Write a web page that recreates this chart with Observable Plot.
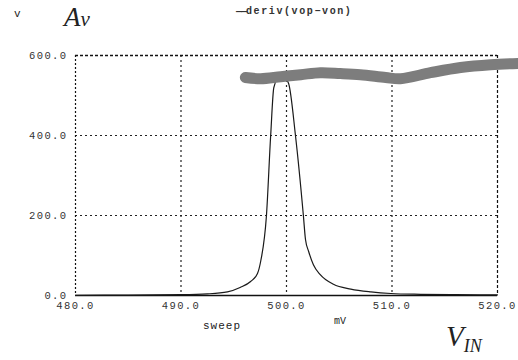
<!DOCTYPE html>
<html>
<head>
<meta charset="utf-8">
<script src="https://cdn.jsdelivr.net/npm/d3@7"></script>
<script src="https://cdn.jsdelivr.net/npm/@observablehq/plot@0.6"></script>
<style>
  html, body { margin: 0; padding: 0; background: #fff; }
  #wrap { position: relative; width: 518px; height: 360px; overflow: hidden; }
  .t { position: absolute; white-space: nowrap; color: #222; }
  .mono { font-family: "Liberation Mono", "DejaVu Sans Mono", monospace; }
  .serif { font-family: "Liberation Serif", "DejaVu Serif", serif; font-style: italic; }
</style>
</head>
<body>
<div id="wrap"></div>
<script>
// Peak curve: deriv(vop-von) vs sweep (mV)
const peakX = [480, 485, 490, 492.5, 494.4, 495.6, 496.6, 497.25, 497.55, 498.1, 498.5, 498.8, 499.5, 500.2, 500.85, 501.6, 501.8, 502.1, 502.55, 503.2, 504.45, 506.1, 508.0, 509.9, 512.7, 516, 520];
const peakY = [0.5, 1, 2, 4, 9, 20, 35, 55, 85, 200, 400, 520, 555, 530, 400, 200, 140, 110, 77, 52, 28, 16, 9, 5, 3, 2, 1.5];

// Thick gray band (overlaid Av curve)
const bandX = [496.1, 497.55, 499.45, 501.35, 503.2, 505.1, 507.0, 509.4, 510.8, 513.65, 516.5, 519.35, 522.0];
const bandY = [545, 542, 547, 552, 557, 555, 552, 545, 542, 557, 570, 577, 580];

const xTicks = [480, 490, 500, 510, 520];
const yTicks = [0, 200, 400, 600];

const peak = peakX.map((x, i) => ({x, y: peakY[i]}));
const band = bandX.map((x, i) => ({x, y: bandY[i]}));

const chart = Plot.plot({
  width: 518,
  height: 360,
  marginTop: 55,
  marginRight: 21,
  marginBottom: 65,
  marginLeft: 75,
  style: { background: "transparent", fontFamily: "Liberation Mono, monospace", color: "#222" },
  x: { domain: [480, 520] },
  y: { domain: [0, 600] },
  marks: [
    // grid
    Plot.ruleX([490, 500, 510], { stroke: "#222", strokeWidth: 1.2, strokeDasharray: "2,3" }),
    Plot.ruleY([200, 400], { stroke: "#222", strokeWidth: 1.2, strokeDasharray: "2,3" }),
    // frame: dotted top/left/right, solid bottom
    Plot.ruleY([600], { stroke: "#111", strokeWidth: 1.4, strokeDasharray: "3,2" }),
    Plot.ruleX([480], { stroke: "#111", strokeWidth: 1.2, strokeDasharray: "2,2" }),
    Plot.ruleX([520], { stroke: "#111", strokeWidth: 1.2, strokeDasharray: "3,2" }),
    Plot.ruleY([0], { stroke: "#111", strokeWidth: 1.5 }),
    // curves
    Plot.line(peak, { x: "x", y: "y", stroke: "#1a1a1a", strokeWidth: 1.2, curve: "monotone-x" }),
    Plot.line(band, { x: "x", y: "y", stroke: "#7d7d7d", strokeWidth: 11, strokeLinecap: "round", curve: "catmull-rom", clip: false }),
    // axes
    Plot.axisX({ ticks: xTicks, tickFormat: d => d.toFixed(1), tickSize: 0, tickPadding: 6, fontSize: 10.5, label: null }),
    Plot.axisY({ ticks: yTicks, tickFormat: d => d.toFixed(1), tickSize: 0, tickPadding: 8, fontSize: 10.5, label: null })
  ]
});

chart.querySelectorAll("g[aria-label='x-axis tick label'] text, g[aria-label='y-axis tick label'] text").forEach(t => {
  t.style.letterSpacing = "1.4px";
  t.style.fill = "#333";
});

const wrap = document.getElementById("wrap");
wrap.appendChild(chart);

function addText(html, cls, left, top, size, extra) {
  const d = document.createElement("div");
  d.className = "t " + cls;
  d.innerHTML = html;
  d.style.left = left + "px";
  d.style.top = top + "px";
  d.style.fontSize = size + "px";
  if (extra) Object.assign(d.style, extra);
  wrap.appendChild(d);
}
addText("v", "mono", 14, 8, 11);
addText("A<span style='font-size:21px'>v</span>", "serif", 64, 2, 27);
addText("<span style='letter-spacing:-1px'>——</span>deriv(vop−von)", "mono", 236, 6, 10, { letterSpacing: "1.6px", fontWeight: "bold", color: "#333" });
addText("sweep", "mono", 203, 320, 11, { letterSpacing: "1px" });
addText("mV", "mono", 334, 316, 10);
addText("V<span style='font-size:18px;position:relative;top:6px'>IN</span>", "serif", 446, 320, 29);
</script>
</body>
</html>
